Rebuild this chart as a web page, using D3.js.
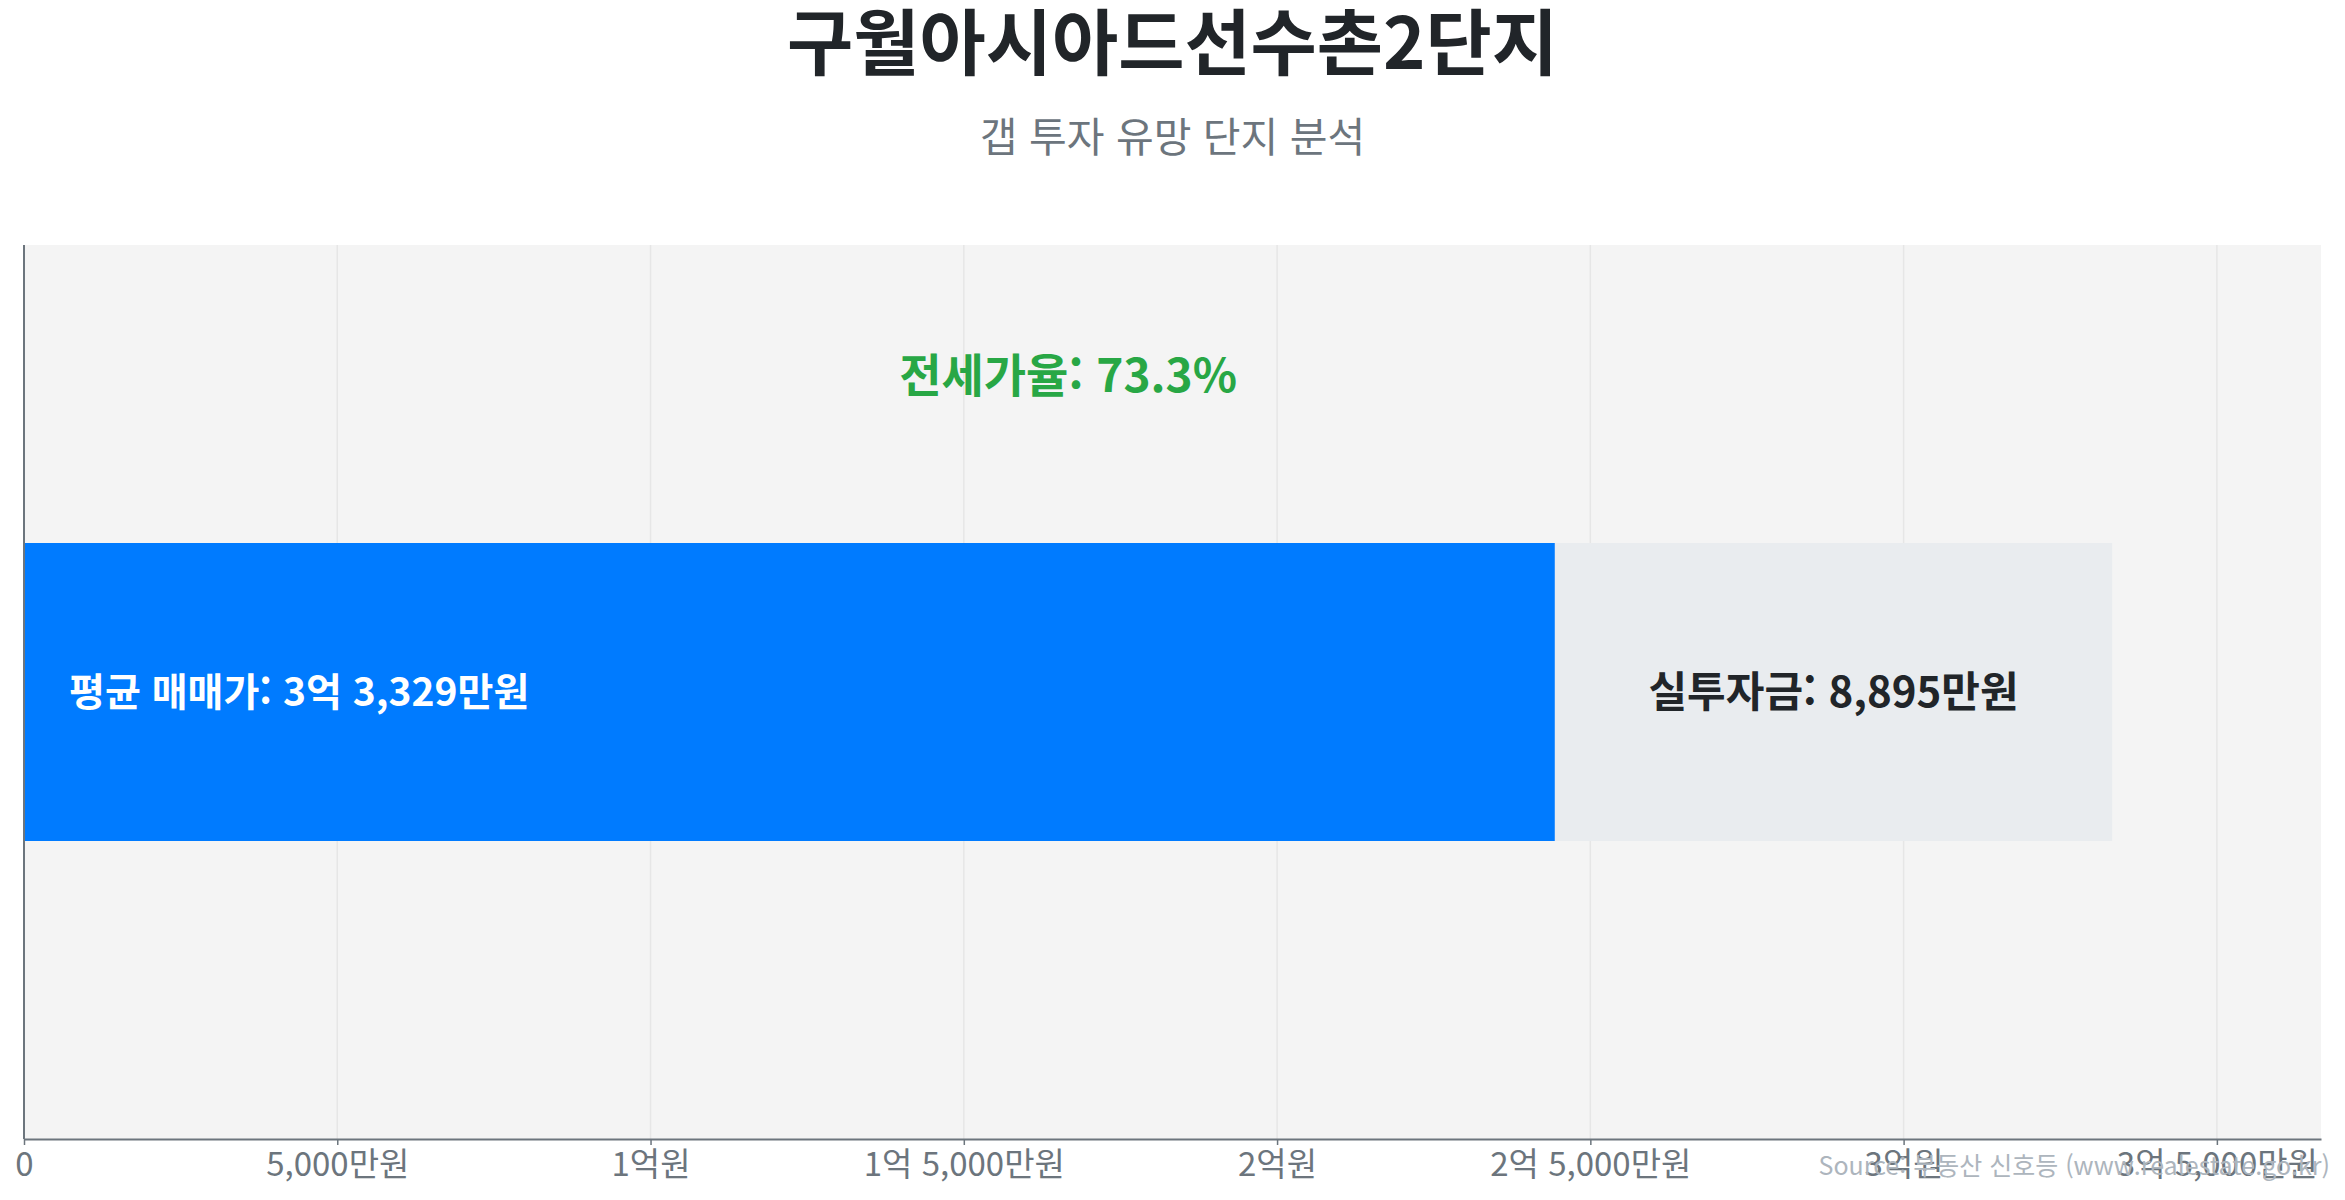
<!DOCTYPE html>
<html lang="ko">
<head>
<meta charset="utf-8">
<script src="https://cdn.jsdelivr.net/npm/d3@7"></script>
<style>
	body { margin: 0; background: #fff; }
	svg { display: block; font-family: "Noto Sans CJK KR", "Noto Sans", sans-serif; }
</style>
</head>
<body>
<div id="chart"></div>
<script>
// values in 만원
const complexName = '구월아시아드선수촌2단지';
const subtitle = '갭 투자 유망 단지 분석';
const segmentKeys = ['jeonse', 'gap'];
const segmentValues = [24434, 8895];
const avgPrice = 33329;
const jeonseRate = 73.3;
const tickValues = [0, 5000, 10000, 15000, 20000, 25000, 30000, 35000];
const sourceText = 'Source: 부동산 신호등 (www.realestate.go.kr)';

class GapChart {
	constructor(_config) {
		this.config = {
			parentElement: _config.parentElement,
			containerWidth: 2345,
			containerHeight: 1200,
			margin: { top: 245, right: 24, bottom: 61, left: 24 },
		};
		this.colors = { jeonse: '#007bff', gap: '#e9ecef' };
		this.initVis();
	}

	initVis() {
		let vis = this;

		vis.width = vis.config.containerWidth - vis.config.margin.left - vis.config.margin.right;
		vis.height = vis.config.containerHeight - vis.config.margin.top - vis.config.margin.bottom;

		vis.svg = d3.select(vis.config.parentElement)
			.append('svg')
			.attr('width', vis.config.containerWidth)
			.attr('height', vis.config.containerHeight);

		vis.chart = vis.svg.append('g')
			.attr('transform', `translate(${vis.config.margin.left},${vis.config.margin.top})`);

		vis.x = d3.scaleLinear()
			.domain([0, avgPrice * 1.1])
			.range([0, vis.width]);

		vis.y = d3.scaleBand()
			.domain([complexName])
			.range([0, vis.height])
			.padding(0.5);

		vis.chart.append('rect')
			.attr('width', vis.width)
			.attr('height', vis.height)
			.attr('fill', '#f4f4f4');

		vis.chart.append('g')
			.attr('class', 'grid')
			.selectAll('line')
			.data(tickValues.slice(1))
			.join('line')
			.attr('x1', d => vis.x(d))
			.attr('x2', d => vis.x(d))
			.attr('y1', 0)
			.attr('y2', vis.height)
			.attr('stroke', '#e6e6e6')
			.attr('stroke-width', 1.5);
	}

	_formatManwon(v) {
		if (v === 0) return '0';
		const eok = Math.floor(v / 10000);
		const man = v % 10000;
		if (eok === 0) return d3.format(',')(man) + '만원';
		if (man === 0) return eok + '억원';
		return eok + '억 ' + d3.format(',')(man) + '만원';
	}

	updateVis() {
		let vis = this;

		const row = { name: complexName };
		segmentKeys.forEach((k, i) => row[k] = segmentValues[i]);
		vis.series = d3.stack().keys(segmentKeys)([row]);

		vis.renderVis();
	}

	renderVis() {
		let vis = this;
		const band = vis.y(complexName);
		const bw = vis.y.bandwidth();

		vis.chart.selectAll('.segment')
			.data(vis.series)
			.join('rect')
			.attr('class', 'segment')
			.attr('x', d => vis.x(d[0][0]))
			.attr('width', d => vis.x(d[0][1]) - vis.x(d[0][0]))
			.attr('y', band)
			.attr('height', bw)
			.attr('fill', d => vis.colors[d.key]);

		const jeonse = vis.series[0][0];
		const gap = vis.series[1][0];

		vis.chart.append('text')
			.attr('x', vis.x(jeonse[0]) + 45)
			.attr('y', band + bw / 2)
			.attr('dy', '0.35em')
			.attr('fill', '#fff')
			.attr('font-size', 39)
			.attr('font-weight', 700)
			.text('평균 매매가: ' + vis._formatManwon(avgPrice));

		vis.chart.append('text')
			.attr('x', vis.x((gap[0] + gap[1]) / 2))
			.attr('y', band + bw / 2)
			.attr('dy', '0.35em')
			.attr('text-anchor', 'middle')
			.attr('fill', '#212529')
			.attr('font-size', 42)
			.attr('font-weight', 700)
			.text('실투자금: ' + vis._formatManwon(segmentValues[1]));

		vis.chart.append('text')
			.attr('x', vis.x(avgPrice / 2))
			.attr('y', band / 2 - 18)
			.attr('dy', '0.35em')
			.attr('text-anchor', 'middle')
			.attr('fill', '#28a745')
			.attr('font-size', 46)
			.attr('font-weight', 700)
			.text(`전세가율: ${jeonseRate}%`);

		// axes
		const xAxis = d3.axisBottom(vis.x)
			.tickValues(tickValues)
			.tickFormat(d => vis._formatManwon(d))
			.tickSize(6)
			.tickSizeOuter(0)
			.tickPadding(8);

		const axisG = vis.chart.append('g')
			.attr('transform', `translate(0,${vis.height})`)
			.call(xAxis);
		axisG.select('.domain').attr('stroke', '#6c757d').attr('stroke-width', 2);
		axisG.selectAll('.tick line').attr('stroke', '#6c757d').attr('stroke-width', 1.5);
		axisG.selectAll('.tick text')
			.attr('fill', '#6c757d')
			.attr('font-size', 33)
			.attr('font-family', '"Noto Sans CJK KR", sans-serif');

		vis.chart.append('line')
			.attr('x1', 0).attr('x2', 0)
			.attr('y1', 0).attr('y2', vis.height)
			.attr('stroke', '#6c757d')
			.attr('stroke-width', 2);

		// titles
		vis.svg.append('text')
			.attr('x', vis.config.containerWidth / 2)
			.attr('y', 69)
			.attr('text-anchor', 'middle')
			.attr('fill', '#212529')
			.attr('font-size', 72)
			.attr('font-weight', 700)
			.text(complexName);

		vis.svg.append('text')
			.attr('x', vis.config.containerWidth / 2)
			.attr('y', 152)
			.attr('text-anchor', 'middle')
			.attr('fill', '#6c757d')
			.attr('font-size', 41)
			.text(subtitle);

		vis.svg.append('text')
			.attr('x', vis.config.containerWidth - 15)
			.attr('y', 1175)
			.attr('text-anchor', 'end')
			.attr('fill', '#adb5bd')
			.attr('font-size', 25)
			.text(sourceText);
	}
}

const chart = new GapChart({ parentElement: '#chart' });
chart.updateVis();
</script>
</body>
</html>
